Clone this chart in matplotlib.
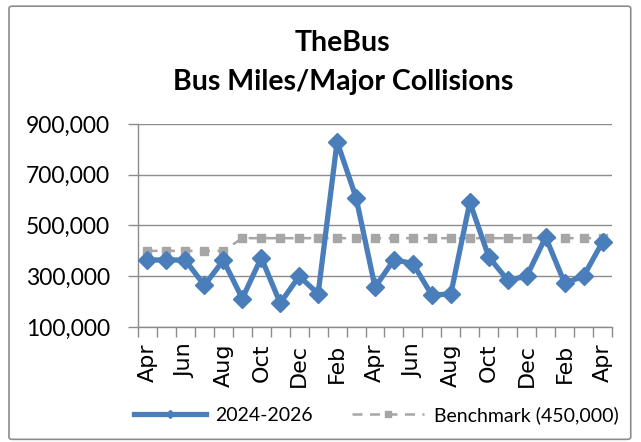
import matplotlib
matplotlib.use('Agg')
import matplotlib.pyplot as plt
from matplotlib.patches import FancyBboxPatch
from matplotlib.ticker import FuncFormatter, FixedLocator

# monthly values, Apr 2024 .. Apr 2026
months = ['Apr', 'May', 'Jun', 'Jul', 'Aug', 'Sep', 'Oct', 'Nov', 'Dec', 'Jan', 'Feb', 'Mar',
          'Apr', 'May', 'Jun', 'Jul', 'Aug', 'Sep', 'Oct', 'Nov', 'Dec', 'Jan', 'Feb', 'Mar', 'Apr']
miles_per_collision = [363000, 365000, 363000, 264000, 363000, 212000, 373000, 194000, 300000, 231000,
                       830000, 610000, 257000, 365000, 350000, 225000, 231000, 592000, 376000, 284000,
                       300000, 454000, 273000, 300000, 435000]
benchmark = [400000] * 5 + [450000] * 20
yticks = [100000, 300000, 500000, 700000, 900000]

blue = '#4a7ebb'
grey = '#a6a6a6'

fig = plt.figure(figsize=(6.41, 4.42), dpi=100)
border = FancyBboxPatch((0.014, 0.006), 0.97, 0.98, boxstyle='round,pad=0,rounding_size=0.005',
                        transform=fig.transFigure, facecolor='none', edgecolor='#8c8c8c', lw=1.2, zorder=5)
fig.patches.append(border)

ax = fig.add_axes([0.2153, 0.2602, 0.7395, 0.4593])
x = list(range(len(months)))

ax.plot(x, benchmark, color=grey, lw=1.8, ls=(0, (4, 3)), marker='s', ms=5.5,
        label='Benchmark (450,000)', zorder=2)
ax.plot(x, miles_per_collision, color=blue, lw=3.8, marker='D', ms=9,
        label='2024-2026', zorder=3)

ax.set_xlim(-0.5, len(months) - 0.5)
ax.set_ylim(yticks[0], yticks[-1])
ax.set_yticks(yticks)
ax.yaxis.set_major_formatter(FuncFormatter(lambda v, p: f'{int(v):,}'))
ax.yaxis.grid(True, color='#8c8c8c', lw=1)
ax.set_axisbelow(True)

ax.xaxis.set_major_locator(FixedLocator([i - 0.5 for i in range(len(months) + 1)]))
ax.set_xticklabels([])
ax.xaxis.set_minor_locator(FixedLocator(x[::2]))
ax.set_xticklabels(months[::2], minor=True, rotation=90, fontsize=16, family='DejaVu Sans')
ax.tick_params(axis='x', which='minor', length=0, pad=12)
ax.tick_params(axis='x', which='major', length=7, color='#8c8c8c', width=1)
ax.tick_params(axis='y', length=7, color='#8c8c8c', width=1, labelsize=16.5, pad=13)
for lab in ax.get_yticklabels():
    lab.set_family('Lato')

for s in ['top', 'right']:
    ax.spines[s].set_visible(False)
for s in ['left', 'bottom']:
    ax.spines[s].set_color('#8c8c8c')
    ax.spines[s].set_linewidth(1)

fig.text(0.535, 0.902, 'TheBus', ha='center', va='center', fontsize=20.5, fontweight='bold', family='Lato')
fig.text(0.535, 0.815, 'Bus Miles/Major Collisions', ha='center', va='center', fontsize=20.5,
         fontweight='bold', family='Lato')

h, l = ax.get_legend_handles_labels()
leg = fig.legend(h[::-1], l[::-1], loc='center', bbox_to_anchor=(0.587, 0.061), ncol=2, frameon=False,
                 handlelength=3.7, handletextpad=0.5, columnspacing=2.0, prop={'family': 'Lato', 'size': 14})
leg.legend_handles[0].set_markersize(4)
leg.legend_handles[1].set_markersize(4.5)

fig.savefig('out.png', dpi=100)
